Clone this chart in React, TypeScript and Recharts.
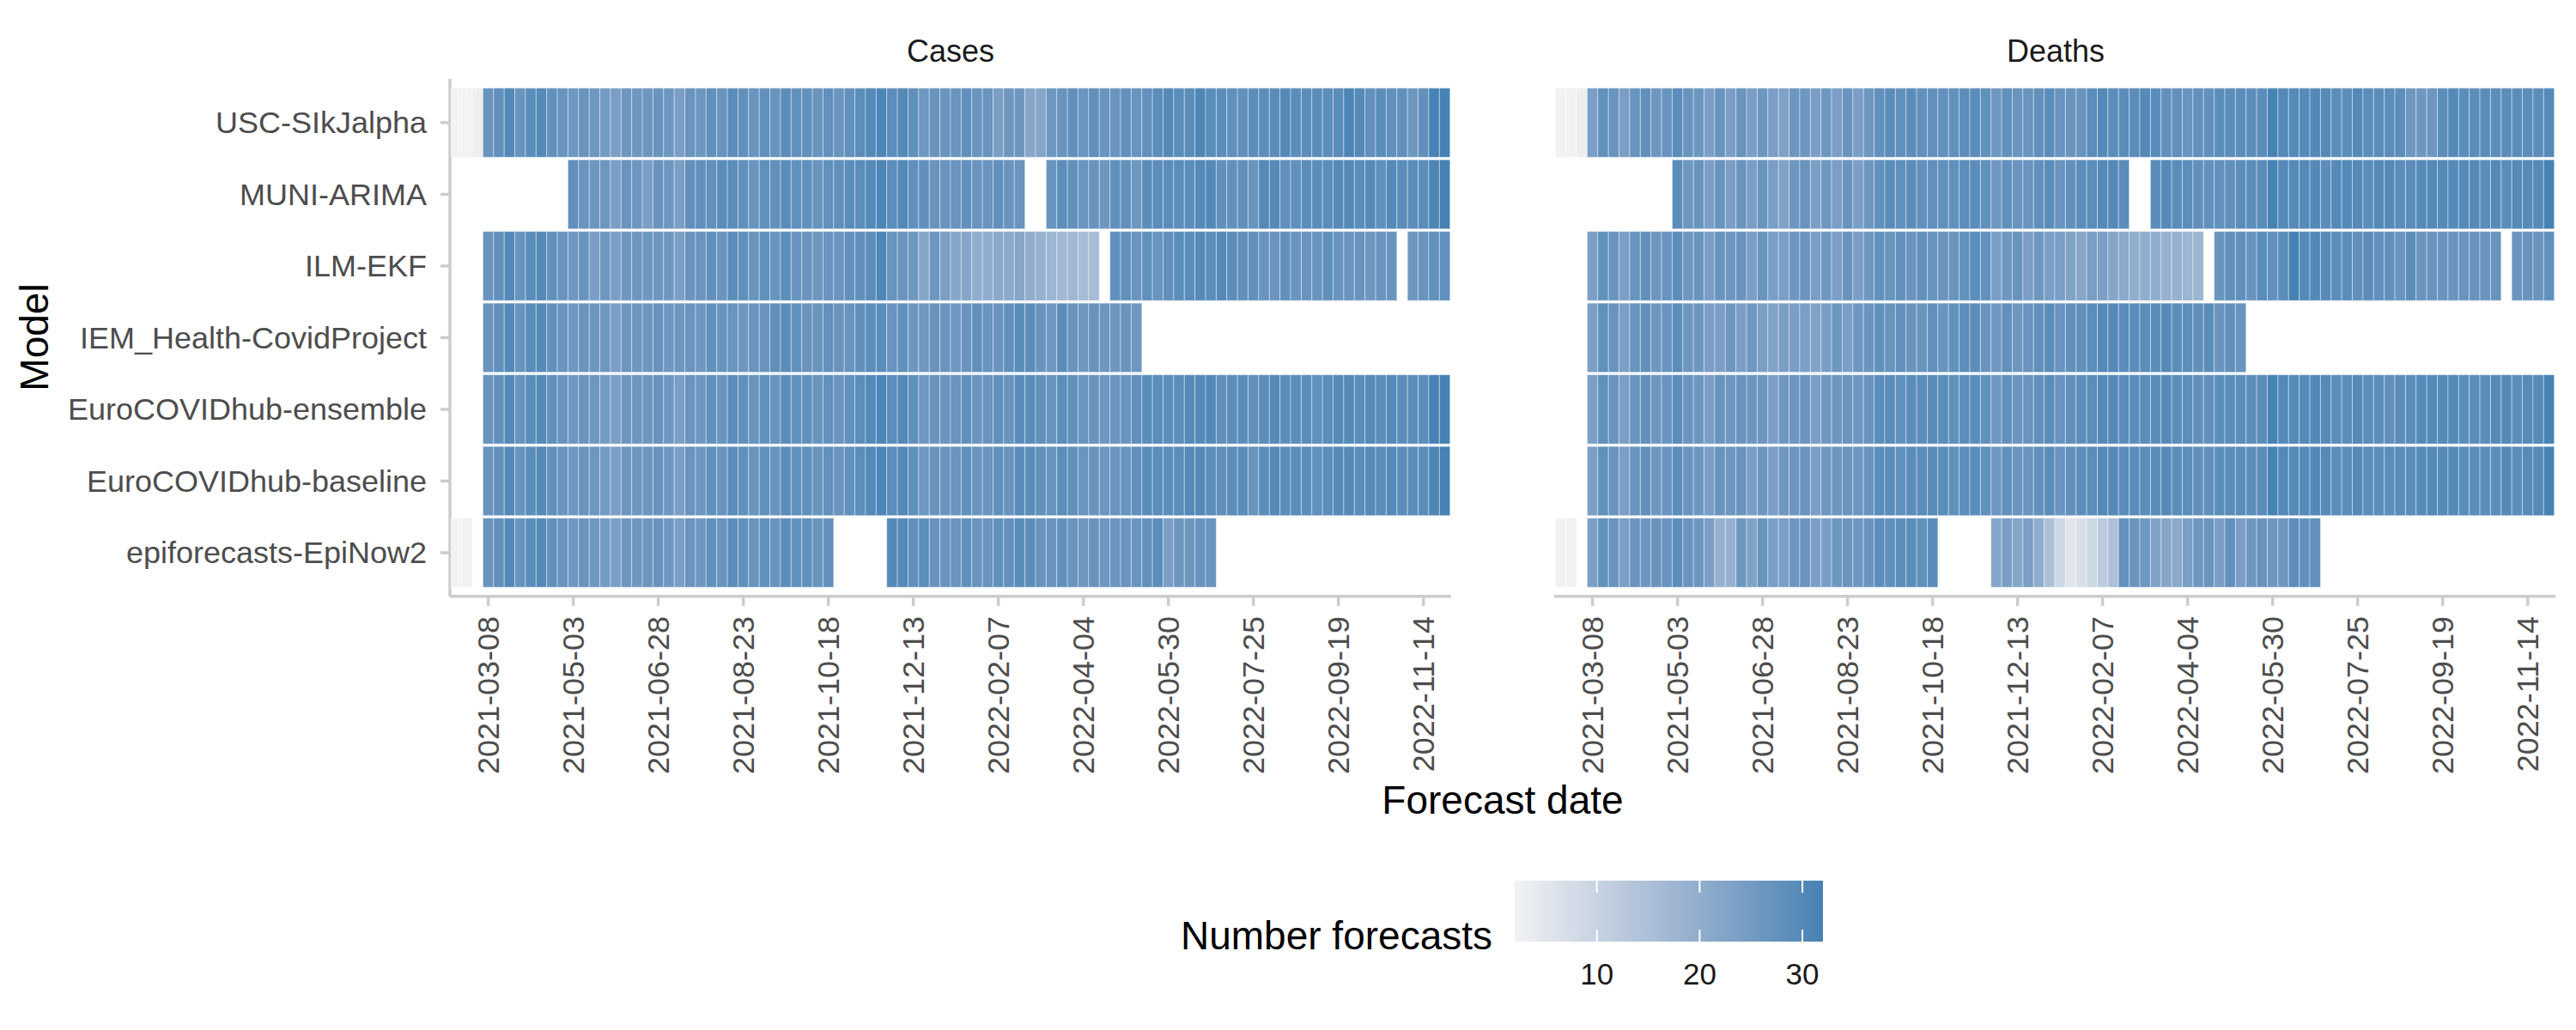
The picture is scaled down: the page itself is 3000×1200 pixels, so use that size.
import React from "react";
import { ScatterChart, Scatter, XAxis, YAxis } from "recharts";

const _ = null;

const models = [
  "USC-SIkJalpha",
  "MUNI-ARIMA",
  "ILM-EKF",
  "IEM_Health-CovidProject",
  "EuroCOVIDhub-ensemble",
  "EuroCOVIDhub-baseline",
  "epiforecasts-EpiNow2",
];

const firstForecastDate = "2021-02-15";
const weekCount = 94;

const tickDates = [
  "2021-03-08", "2021-05-03", "2021-06-28", "2021-08-23", "2021-10-18", "2021-12-13",
  "2022-02-07", "2022-04-04", "2022-05-30", "2022-07-25", "2022-09-19", "2022-11-14",
];

// number of forecasts per model and forecast week (one entry per week, null = none)
const casesUsc = [
  2, 2, 3, 27, 28, 30, 27, 29, 30, 28, 27, 26, 27, 26, 25, 24, 26, 26, 26, 27, 26, 24, 27, 26,
  28, 27, 29, 28, 27, 28, 27, 29, 28, 28, 27, 28, 27, 28, 29, 30, 31, 29, 30, 28, 26, 27, 27, 27,
  28, 27, 27, 24, 26, 26, 22, 22, 26, 27, 28, 27, 28, 27, 27, 28, 27, 28, 29, 30, 29, 29, 31, 29,
  29, 28, 28, 29, 29, 29, 30, 29, 29, 29, 29, 29, 31, 30, 28, 29, 28, 28, 26, 28, 32, 32,
];
const casesMuni = [
  _, _, _, _, _, _, _, _, _, _, _, 28, 27, 26, 26, 24, 27, 26, 24, 27, 26, 24, 28, 28,
  28, 29, 29, 28, 27, 28, 28, 29, 28, 28, 27, 28, 28, 29, 29, 30, 31, 29, 30, 28, 28, 27, 27, 27,
  28, 27, 27, 28, 27, 27, _, _, 27, 29, 28, 27, 27, 26, 28, 28, 26, 29, 29, 29, 29, 29, 30, 30,
  28, 28, 28, 27, 30, 30, 28, 28, 29, 29, 29, 30, 30, 29, 30, 28, 30, 29, 29, 29, 31, 32,
];
const casesIlm = [
  _, _, _, 27, 28, 30, 27, 29, 30, 28, 27, 26, 27, 24, 26, 24, 26, 26, 26, 26, 26, 24, 27, 27,
  28, 27, 29, 28, 27, 28, 27, 29, 27, 27, 26, 27, 27, 28, 28, 29, 31, 27, 27, 26, 22, 26, 24, 22,
  22, 20, 20, 21, 21, 22, 20, 19, 18, 17, 17, 16, 16, _, 28, 28, 27, 28, 27, 28, 29, 29, 30, 29,
  30, 29, 28, 28, 27, 27, 28, 27, 27, 27, 28, 27, 27, 27, 26, 27, 27, _, 26, 27, 28, 28,
];
const casesIem = [
  _, _, _, 27, 28, 30, 27, 29, 30, 28, 27, 26, 27, 26, 26, 24, 26, 26, 26, 27, 26, 26, 27, 26,
  28, 27, 27, 26, 27, 27, 28, 29, 28, 27, 27, 28, 27, 27, 28, 29, 29, 27, 28, 26, 26, 27, 27, 26,
  27, 28, 27, 27, 28, 29, 29, 27, 26, 29, 27, 26, 27, 26, 26, 27, 26, _, _, _, _, _, _, _,
  _, _, _, _, _, _, _, _, _, _, _, _, _, _, _, _, _, _, _, _, _, _,
];
const casesEnsemble = [
  _, _, _, 27, 28, 30, 27, 29, 30, 28, 27, 26, 27, 26, 25, 24, 26, 26, 26, 27, 26, 24, 27, 26,
  28, 27, 29, 28, 27, 28, 27, 29, 28, 28, 27, 28, 27, 28, 29, 30, 31, 29, 30, 28, 26, 27, 27, 27,
  28, 27, 27, 28, 27, 29, 29, 28, 27, 29, 28, 27, 27, 26, 27, 27, 28, 29, 29, 29, 29, 30, 30, 30,
  28, 29, 29, 28, 29, 30, 29, 29, 29, 28, 29, 30, 30, 29, 30, 29, 30, 29, 29, 29, 32, 32,
];
const casesBaseline = [
  _, _, _, 27, 28, 30, 27, 29, 30, 28, 27, 26, 27, 26, 25, 24, 26, 26, 26, 27, 26, 24, 27, 26,
  28, 27, 29, 28, 27, 28, 27, 29, 28, 28, 27, 28, 27, 28, 29, 30, 31, 29, 30, 28, 26, 27, 27, 27,
  28, 27, 27, 28, 27, 29, 29, 28, 27, 29, 28, 27, 27, 26, 27, 27, 28, 29, 29, 29, 29, 30, 30, 29,
  28, 29, 29, 27, 29, 30, 29, 29, 29, 28, 29, 30, 30, 29, 30, 29, 30, 29, 29, 29, 31, 32,
];
const casesEpinow2 = [
  2, 2, _, 27, 28, 30, 27, 29, 30, 28, 27, 26, 27, 26, 25, 24, 26, 26, 26, 27, 26, 24, 27, 26,
  28, 27, 29, 28, 27, 28, 27, 29, 28, 28, 27, 28, _, _, _, _, _, 30, 30, 28, 29, 27, 27, 27,
  28, 27, 27, 28, 28, 29, 29, 27, 27, 28, 27, 26, 27, 26, 27, 27, 27, 28, 29, 24, 26, 26, 27, 27,
  _, _, _, _, _, _, _, _, _, _, _, _, _, _, _, _, _, _, _, _, _, _,
];

const deathsUsc = [
  2, 2, 3, 24, 28, 27, 24, 27, 28, 26, 27, 29, 27, 26, 24, 27, 24, 27, 24, 26, 24, 23, 26, 26,
  24, 26, 24, 27, 24, 26, 28, 29, 28, 29, 28, 28, 28, 28, 29, 29, 28, 26, 28, 27, 27, 28, 29, 27,
  27, 27, 29, 30, 29, 29, 29, 30, 29, 28, 28, 27, 28, 28, 29, 29, 29, 29, 29, 32, 30, 30, 30, 30,
  30, 29, 29, 30, 29, 29, 29, 29, 26, 26, 26, 29, 30, 29, 29, 29, 29, 29, 29, 29, 29, 30,
];
const deathsMuni = [
  _, _, _, _, _, _, _, _, _, _, _, 29, 26, 27, 24, 27, 24, 27, 24, 27, 24, 23, 26, 27,
  24, 26, 24, 27, 24, 26, 28, 29, 28, 29, 28, 28, 28, 28, 29, 29, 28, 26, 28, 27, 27, 28, 29, 27,
  28, 29, 29, 30, 30, 29, _, _, 29, 30, 29, 29, 28, 28, 28, 28, 29, 29, 29, 32, 30, 30, 30, 30,
  29, 30, 30, 30, 29, 30, 30, 29, 29, 30, 30, 30, 30, 30, 30, 29, 30, 29, 30, 30, 30, 32,
];
const deathsIlm = [
  _, _, _, 24, 28, 27, 24, 27, 28, 26, 27, 29, 26, 27, 24, 27, 26, 27, 24, 27, 24, 24, 26, 27,
  24, 26, 24, 27, 24, 26, 28, 27, 28, 27, 28, 27, 27, 27, 28, 29, 28, 24, 26, 27, 24, 26, 24, 24,
  23, 22, 24, 24, 22, 21, 20, 20, 20, 19, 19, 18, 18, _, 27, 28, 28, 27, 29, 28, 29, 32, 30, 30,
  30, 29, 29, 28, 29, 28, 28, 27, 29, 27, 27, 27, 27, 27, 27, 27, 27, _, 27, 27, 27, 28,
];
const deathsIem = [
  _, _, _, 24, 28, 27, 24, 27, 28, 26, 27, 29, 26, 26, 24, 24, 26, 24, 26, 24, 23, 24, 24, 24,
  23, 24, 26, 24, 26, 27, 28, 27, 28, 27, 27, 28, 27, 28, 29, 29, 27, 26, 28, 26, 27, 28, 29, 27,
  28, 28, 29, 30, 30, 29, 29, 29, 29, 30, 29, 29, 28, 29, 27, 28, 27, _, _, _, _, _, _, _,
  _, _, _, _, _, _, _, _, _, _, _, _, _, _, _, _, _, _, _, _, _, _,
];
const deathsEnsemble = [
  _, _, _, 24, 28, 27, 24, 27, 28, 26, 27, 29, 27, 26, 24, 27, 26, 27, 26, 26, 24, 26, 26, 27,
  24, 26, 26, 27, 26, 27, 29, 29, 28, 29, 29, 29, 29, 28, 29, 29, 28, 26, 28, 27, 27, 28, 29, 27,
  28, 29, 29, 30, 30, 29, 29, 29, 29, 30, 29, 29, 28, 28, 29, 29, 29, 29, 29, 32, 30, 30, 30, 30,
  30, 29, 29, 30, 29, 29, 28, 29, 29, 30, 30, 30, 30, 29, 29, 29, 30, 30, 29, 30, 30, 32,
];
const deathsBaseline = [
  _, _, _, 24, 28, 27, 24, 27, 28, 26, 27, 29, 27, 26, 24, 27, 26, 27, 24, 26, 24, 26, 26, 27,
  24, 26, 26, 27, 26, 27, 29, 29, 28, 29, 29, 29, 29, 28, 29, 29, 28, 26, 28, 27, 27, 28, 29, 27,
  28, 29, 29, 30, 30, 29, 29, 29, 29, 30, 29, 29, 28, 28, 29, 29, 29, 29, 29, 32, 30, 30, 30, 30,
  30, 29, 29, 30, 29, 29, 29, 29, 29, 30, 30, 30, 30, 29, 29, 29, 29, 30, 29, 30, 30, 32,
];
const deathsEpinow2 = [
  2, 2, _, 24, 28, 27, 24, 27, 26, 27, 27, 29, 27, 26, 24, 19, 19, 26, 23, 27, 24, 24, 26, 27,
  24, 24, 26, 27, 26, 27, 29, 28, 29, 29, 28, 29, _, _, _, _, _, 22, 24, 22, 24, 20, 15, 9,
  5, 7, 9, 12, 15, 28, 27, 26, 23, 22, 21, 24, 26, 27, 24, 28, 24, 26, 27, 26, 26, 29, 28, 28,
  _, _, _, _, _, _, _, _, _, _, _, _, _, _, _, _, _, _, _, _, _, _,
];

const casesRows = [casesUsc, casesMuni, casesIlm, casesIem, casesEnsemble, casesBaseline, casesEpinow2];
const deathsRows = [deathsUsc, deathsMuni, deathsIlm, deathsIem, deathsEnsemble, deathsBaseline, deathsEpinow2];

const scaleMin = 2;
const scaleMax = 32;
const lowColour = "#f2f2f2";
const highColour = "#4682b4";

// ---- colour scale (Lab interpolation, like scale_fill_gradient) ----
const toLin = (c: number) => (c <= 0.04045 ? c / 12.92 : Math.pow((c + 0.055) / 1.055, 2.4));
const fromLin = (c: number) => (c <= 0.0031308 ? 12.92 * c : 1.055 * Math.pow(c, 1 / 2.4) - 0.055);
const WX = 0.95047, WZ = 1.08883;

function hexToLab(hex: string) {
  const r = toLin(parseInt(hex.slice(1, 3), 16) / 255);
  const g = toLin(parseInt(hex.slice(3, 5), 16) / 255);
  const b = toLin(parseInt(hex.slice(5, 7), 16) / 255);
  const x = (0.4124 * r + 0.3576 * g + 0.1805 * b) / WX;
  const y = 0.2126 * r + 0.7152 * g + 0.0722 * b;
  const z = (0.0193 * r + 0.1192 * g + 0.9505 * b) / WZ;
  const f = (t: number) => (t > 0.008856 ? Math.cbrt(t) : 7.787 * t + 16 / 116);
  return [116 * f(y) - 16, 500 * (f(x) - f(y)), 200 * (f(y) - f(z))];
}

function labToHex([L, A, B]: number[]) {
  const fy = (L + 16) / 116;
  const fx = fy + A / 500;
  const fz = fy - B / 200;
  const inv = (t: number) => (t ** 3 > 0.008856 ? t ** 3 : (t - 16 / 116) / 7.787);
  const x = inv(fx) * WX, y = inv(fy), z = inv(fz) * WZ;
  const r = 3.2406 * x - 1.5372 * y - 0.4986 * z;
  const g = -0.9689 * x + 1.8758 * y + 0.0415 * z;
  const b = 0.0557 * x - 0.204 * y + 1.057 * z;
  const h = (c: number) =>
    Math.round(Math.min(1, Math.max(0, fromLin(c))) * 255).toString(16).padStart(2, "0");
  return "#" + h(r) + h(g) + h(b);
}

const LOW_LAB = hexToLab(lowColour);
const HIGH_LAB = hexToLab(highColour);

function fillFor(v: number) {
  const t = Math.min(1, Math.max(0, (v - scaleMin) / (scaleMax - scaleMin)));
  return labToHex(LOW_LAB.map((l, i) => l + (HIGH_LAB[i] - l) * t));
}

// ---- layout ----
const FONT = "'Liberation Sans', Arial, Helvetica, sans-serif";
const WEEK = 7 * 24 * 3600 * 1000;
const PLOT_W = 1166;
const PAD_W = 0.605;
const Y_PAD = 0.61;
const ROW_H = 83.5;
const PLOT_H = ROW_H * (models.length - 1 + 2 * Y_PAD);
const COL_W = PLOT_W / (weekCount - 1 + 2 * PAD_W);
const TOP = 92;
const X_AXIS_H = 230;
const AXIS_GREY = "#cccccc";

const t0 = Date.parse(firstForecastDate);
const weekTimes = Array.from({ length: weekCount }, (_, i) => t0 + i * WEEK);
const xDomain = [weekTimes[0] - PAD_W * WEEK, weekTimes[weekCount - 1] + PAD_W * WEEK];
const xTicks = tickDates.map((d) => Date.parse(d));

function toPoints(rows: (number | null)[][]) {
  const pts: { x: number; y: number; n: number }[] = [];
  rows.forEach((row, i) =>
    row.forEach((n, j) => {
      if (n != null) pts.push({ x: weekTimes[j], y: i, n });
    })
  );
  return pts;
}

const Tile = (props: any) => {
  const { cx, cy, payload } = props;
  if (cx == null || cy == null) return null;
  return (
    <rect
      x={cx - COL_W / 2}
      y={cy - ROW_H / 2 + 1.5}
      width={COL_W}
      height={ROW_H - 3}
      fill={fillFor(payload.n)}
      stroke="#ffffff"
      strokeOpacity={0.4}
      strokeWidth={1}
    />
  );
};

const DateTick = (props: any) => {
  const { x, y, payload } = props;
  const label = new Date(payload.value).toISOString().slice(0, 10);
  return (
    <text
      x={x}
      y={y}
      transform={`rotate(-90, ${x}, ${y})`}
      textAnchor="end"
      dominantBaseline="central"
      fontSize={36}
      fill="#4d4d4d"
      fontFamily={FONT}
    >
      {label}
    </text>
  );
};

const ModelTick = (props: any) => {
  const { x, y, payload } = props;
  return (
    <text x={x} y={y} textAnchor="end" dominantBaseline="central" fontSize={36} fill="#4d4d4d" fontFamily={FONT}>
      {models[payload.value]}
    </text>
  );
};

function Panel({ rows, showY, left, yAxisW, marginLeft }: any) {
  const width = marginLeft + yAxisW + PLOT_W + 10;
  return (
    <div style={{ position: "absolute", left, top: 0 }}>
      <ScatterChart
        width={width}
        height={TOP + PLOT_H + X_AXIS_H}
        margin={{ top: TOP, right: 10, bottom: 0, left: marginLeft }}
      >
        <XAxis
          type="number"
          dataKey="x"
          domain={xDomain}
          allowDataOverflow
          ticks={xTicks}
          interval={0}
          height={X_AXIS_H}
          tickSize={11}
          tickMargin={12}
          axisLine={{ stroke: AXIS_GREY, strokeWidth: 3.5 }}
          tickLine={{ stroke: AXIS_GREY, strokeWidth: 3.5 }}
          tick={<DateTick />}
        />
        <YAxis
          type="number"
          dataKey="y"
          domain={[-Y_PAD, models.length - 1 + Y_PAD]}
          reversed
          allowDataOverflow
          ticks={models.map((_, i) => i)}
          interval={0}
          hide={!showY}
          width={yAxisW}
          tickSize={11}
          tickMargin={16}
          axisLine={{ stroke: AXIS_GREY, strokeWidth: 3.5 }}
          tickLine={{ stroke: AXIS_GREY, strokeWidth: 3.5 }}
          tick={<ModelTick />}
        />
        <Scatter data={toPoints(rows)} shape={<Tile />} isAnimationActive={false} />
      </ScatterChart>
    </div>
  );
}

const legendTicks = [10, 20, 30];
const LEG_X = 1764;
const LEG_Y = 1026;
const LEG_W = 359;
const LEG_H = 71;

function Annotations() {
  const stops = Array.from({ length: 31 }, (_, i) => scaleMin + i);
  const pos = (v: number) => ((v - scaleMin) / (scaleMax - scaleMin)) * LEG_W;
  return (
    <svg
      style={{ position: "absolute", left: 0, top: 0 }}
      width={3000}
      height={1200}
      fontFamily={FONT}
    >
      <defs>
        <linearGradient id="nf" x1="0" x2="1" y1="0" y2="0">
          {stops.map((v) => (
            <stop key={v} offset={(v - scaleMin) / (scaleMax - scaleMin)} stopColor={fillFor(v)} />
          ))}
        </linearGradient>
      </defs>
      <text x={1738} y={1106} textAnchor="end" fontSize={46} fill="#000">
        Number forecasts
      </text>
      <rect x={LEG_X} y={LEG_Y} width={LEG_W} height={LEG_H} fill="url(#nf)" />
      {legendTicks.map((v) => (
        <g key={v}>
          <line x1={LEG_X + pos(v)} x2={LEG_X + pos(v)} y1={LEG_Y} y2={LEG_Y + 14} stroke="#fff" strokeWidth={2} />
          <line x1={LEG_X + pos(v)} x2={LEG_X + pos(v)} y1={LEG_Y + LEG_H - 14} y2={LEG_Y + LEG_H} stroke="#fff" strokeWidth={2} />
          <text x={LEG_X + pos(v)} y={1147} textAnchor="middle" fontSize={35} fill="#1a1a1a">
            {v}
          </text>
        </g>
      ))}
      <text x={1107} y={72} textAnchor="middle" fontSize={36} fill="#1a1a1a">
        Cases
      </text>
      <text x={2394} y={72} textAnchor="middle" fontSize={36} fill="#1a1a1a">
        Deaths
      </text>
      <text
        x={40}
        y={393}
        transform="rotate(-90, 40, 393)"
        textAnchor="middle"
        dominantBaseline="central"
        fontSize={46}
        fill="#000"
      >
        Model
      </text>
      <text x={1750} y={932} textAnchor="middle" dominantBaseline="central" fontSize={46} fill="#000">
        Forecast date
      </text>
    </svg>
  );
}

export default function App() {
  return (
    <div
      style={{
        position: "absolute",
        left: 0,
        top: 0,
        width: 3000,
        height: 1200,
        background: "#fff",
        fontFamily: FONT,
      }}
    >
      <Annotations />
      <Panel rows={casesRows} showY left={0} yAxisW={524} marginLeft={0} />
      <Panel rows={deathsRows} showY={false} left={1800} yAxisW={0} marginLeft={10} />
    </div>
  );
}
